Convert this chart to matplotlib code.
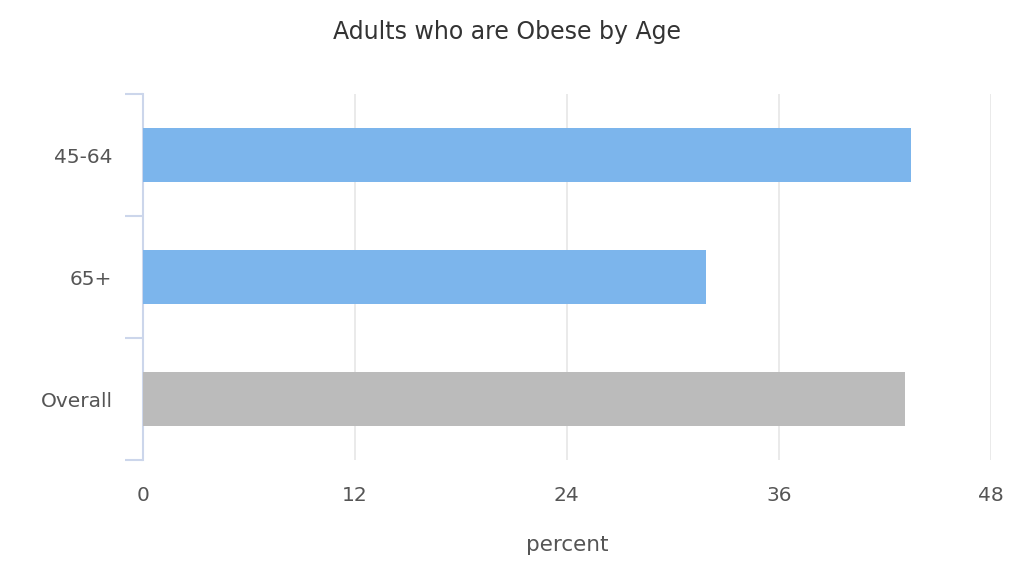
import matplotlib
import matplotlib.pyplot as plt
from matplotlib.ticker import FixedLocator

matplotlib.use('Agg')

ages = ['45-64', '65+', 'Overall']
obese_pct = [43.5, 31.9, 43.15]
bar_colors = ['#7cb5ec', '#7cb5ec', '#bbbbbb']
x_ticks = [0, 12, 24, 36, 48]


fig = plt.figure(figsize=(10.13, 5.62), dpi=100)
ax = fig.add_axes([0.1412, 0.1815, 0.8368, 0.6512])

pos = list(range(len(ages)))
ax.barh(pos, obese_pct, height=0.45, color=bar_colors, zorder=3)

ax.set_xlim(0, 48)
ax.set_ylim(2.5, -0.5)

ax.set_xticks(x_ticks)
ax.set_xticklabels([str(t) for t in x_ticks])
ax.set_yticks(pos)
ax.set_yticklabels(ages)
ax.yaxis.set_minor_locator(FixedLocator([-0.5, 0.5, 1.5, 2.5]))

for t in x_ticks[1:]:
    ax.axvline(t, color='#e6e6e6', linewidth=1.2, zorder=1)

for side in ['top', 'right', 'bottom']:
    ax.spines[side].set_visible(False)
ax.spines['left'].set_color('#ccd6eb')
ax.spines['left'].set_linewidth(1.5)

ax.tick_params(axis='x', length=0, pad=19, labelsize=14.5, labelcolor='#555555')
ax.tick_params(axis='y', which='major', length=0, pad=22, labelsize=14.5, labelcolor='#555555')
ax.tick_params(axis='y', which='minor', length=13, width=1.5, color='#ccd6eb')

ax.set_xlabel('percent', fontsize=15.5, color='#555555', labelpad=21)
fig.suptitle('Adults who are Obese by Age', fontsize=17, color='#333333', y=0.965)

fig.savefig('out.png', dpi=100)
